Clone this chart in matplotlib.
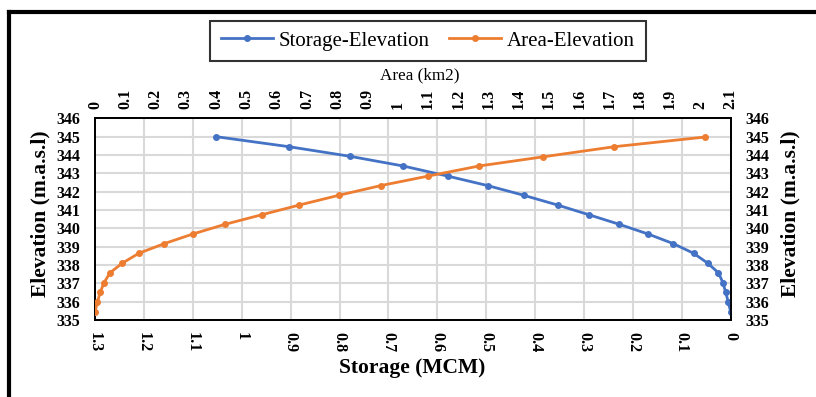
import matplotlib
matplotlib.use("Agg")
import matplotlib.pyplot as plt
from matplotlib.lines import Line2D
import numpy as np

# Data
elev_storage = [345.0, 344.45, 343.93, 343.4, 342.85, 342.33, 341.8, 341.27, 340.74,
                340.22, 339.69, 339.16, 338.64, 338.1, 337.57, 337.04, 336.5, 335.97, 335.45]
storage = [1.053, 0.903, 0.779, 0.670, 0.579, 0.497, 0.423, 0.354, 0.290,
           0.228, 0.169, 0.117, 0.076, 0.047, 0.025, 0.016, 0.010, 0.005, 0.0]

elev_area = [335.45, 335.97, 336.5, 337.04, 337.58, 338.1, 338.64, 339.16, 339.69,
             340.22, 340.74, 341.27, 341.8, 342.33, 342.85, 343.4, 343.9, 344.45, 344.98]
area = [0.0, 0.008, 0.017, 0.030, 0.050, 0.090, 0.145, 0.228, 0.323,
        0.430, 0.551, 0.675, 0.805, 0.944, 1.101, 1.269, 1.481, 1.715, 2.016]

storage_ticks = [round(0.1 * i, 1) for i in range(14)]
area_ticks = [round(0.1 * i, 1) for i in range(22)]
elev_ticks = list(range(335, 347))

BLUE = "#4472C4"
ORANGE = "#ED7D31"
SERIF = ["Liberation Serif", "DejaVu Serif"]

def fmt(v):
    return f"{v:g}"

plt.rcParams["font.family"] = SERIF

W, H = 816, 397
fig = plt.figure(figsize=(8.16, 3.97), dpi=100)
ax = fig.add_axes([95 / W, 1 - 320 / H, (730.7 - 95) / W, (320 - 118.3) / H])

ax.plot(storage, elev_storage, color=BLUE, lw=2.0, marker="o", ms=4, zorder=3,
        label="Storage-Elevation")
ax.set_xlim(1.3, 0)
ax.set_ylim(335, 346)
ax.set_xticks(storage_ticks)
ax.set_xticklabels([fmt(v) for v in storage_ticks], rotation=270, fontweight="bold",
                   fontsize=11.5)
ax.set_yticks(elev_ticks)
ax.set_yticklabels([str(v) for v in elev_ticks], fontweight="bold", fontsize=11.5)
ax.tick_params(axis="x", length=0, pad=8.5)
ax.tick_params(axis="y", length=0, right=False, labelright=True, pad=10.5)
for lab in ax.get_yticklabels():
    lab.set_fontweight("bold")
ax.grid(True, color="#D9D9D9", lw=1.5, zorder=0)
ax.set_axisbelow(True)
for sp in ax.spines.values():
    sp.set_linewidth(1.3)
    sp.set_color("black")

# axis titles
fig.text(412 / W, 1 - 368 / H, "Storage (MCM)", ha="center", va="center",
         fontsize=15.5, fontweight="bold")
fig.text(40 / W, 1 - 214 / H, "Elevation (m.a.s.l)", ha="center", va="center",
         rotation=90, fontsize=15.5, fontweight="bold")
fig.text(790 / W, 1 - 214 / H, "Elevation (m.a.s.l)", ha="center", va="center",
         rotation=90, fontsize=15.5, fontweight="bold")
fig.text(420 / W, 1 - 75 / H, "Area (km2)", ha="center", va="center", fontsize=12.3)

ax2 = ax.twiny()
ax2.plot(area, elev_area, color=ORANGE, lw=2.0, marker="o", ms=4, zorder=3,
         label="Area-Elevation")
ax2.set_xlim(0, 2.1)
ax2.set_ylim(335, 346)
ax2.set_xticks(area_ticks)
ax2.set_xticklabels([fmt(v) for v in area_ticks], rotation=90, fontweight="bold",
                    fontsize=11.5)
ax2.tick_params(axis="x", length=0, pad=7)
for sp in ax2.spines.values():
    sp.set_linewidth(1.3)

# legend
handles = [Line2D([], [], color=BLUE, lw=2.0, marker="o", ms=4),
           Line2D([], [], color=ORANGE, lw=2.0, marker="o", ms=4)]
leg = fig.legend(handles, ["Storage-Elevation", "Area-Elevation"], ncol=2,
                 loc="center", bbox_to_anchor=(428 / W, 1 - 41 / H),
                 fontsize=15, frameon=True, fancybox=False, handlelength=2.5,
                 columnspacing=0.9, handletextpad=0.3, borderpad=0.5)
leg.get_frame().set_edgecolor("black")
leg.get_frame().set_linewidth(1.5)

# figure border (top and left)
fig.add_artist(Line2D([9.3 / W, 9.3 / W], [0, 1 - 12 / H], transform=fig.transFigure,
                      color="black", lw=3))
fig.add_artist(Line2D([9.3 / W, 1], [1 - 12 / H, 1 - 12 / H], transform=fig.transFigure,
                      color="black", lw=3))

fig.savefig("out.png", dpi=100)
